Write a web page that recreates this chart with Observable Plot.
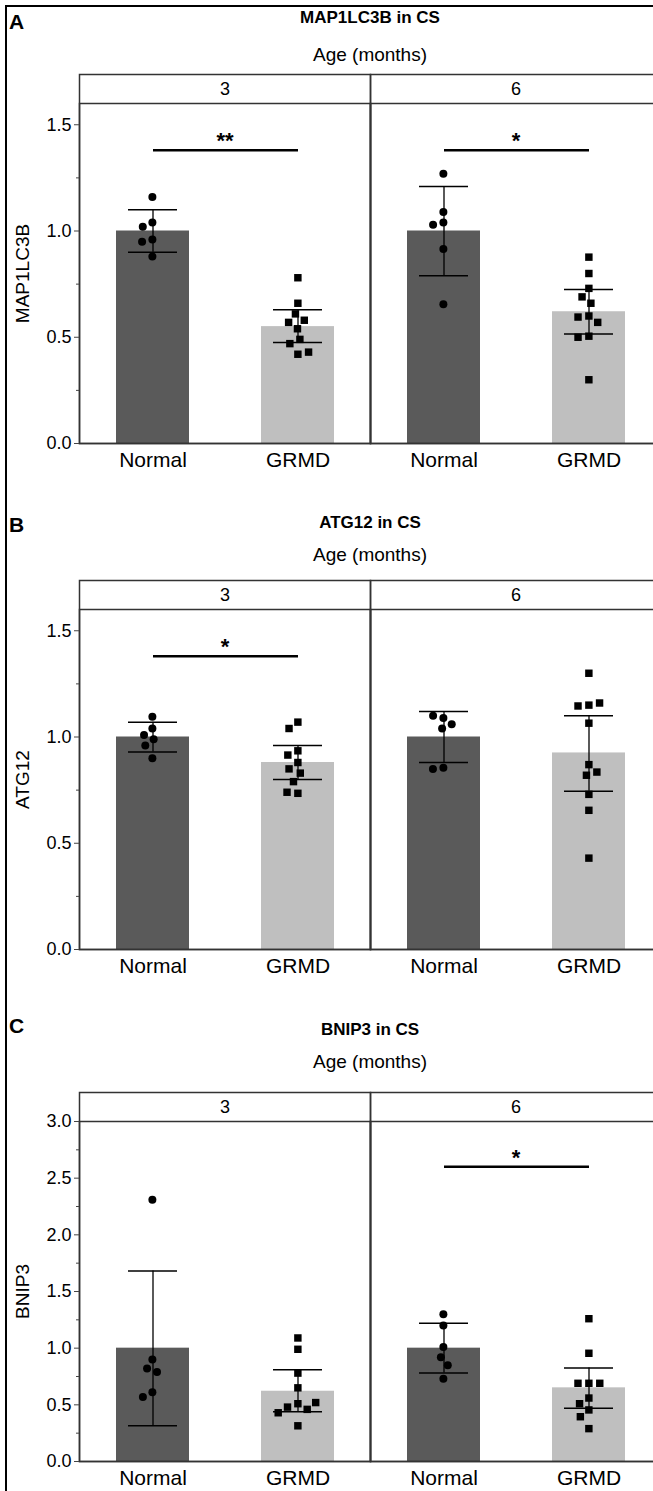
<!DOCTYPE html>
<html>
<head>
<meta charset="utf-8">
<script src="https://cdn.jsdelivr.net/npm/d3@7"></script>
<script src="https://cdn.jsdelivr.net/npm/@observablehq/plot@0.6"></script>
<style>
html, body { margin: 0; padding: 0; background: #fff; overflow: hidden; width: 653px; height: 1491px; }
#root { position: relative; width: 653px; height: 1491px; overflow: hidden; font-family: "Liberation Sans", Arial, Helvetica, sans-serif; color: #000; }
.border { position: absolute; left: 5px; top: 5px; width: 700px; height: 1600px; border-left: 2px solid #000; border-top: 2px solid #000; box-sizing: border-box; }
.letter { position: absolute; left: 9px; font-weight: bold; font-size: 21px; line-height: 24px; height: 24px; }
.title { position: absolute; left: 79px; width: 582px; text-align: center; font-weight: bold; font-size: 17px; line-height: 20px; height: 20px; }
.sub { position: absolute; left: 79px; width: 582px; text-align: center; font-size: 19px; line-height: 22px; height: 22px; }
.plotwrap { position: absolute; left: 0; width: 661px; }
.plotwrap svg { overflow: visible; }
</style>
</head>
<body>
<div id="root"><div class="border"></div></div>
<script>
// ---------- data ----------
const ages = ["3", "6"];
const groups = ["Normal", "GRMD"];

// Panel A: MAP1LC3B in CS  (order of summaries: 3-Normal, 3-GRMD, 6-Normal, 6-GRMD)
const mapMean = [1.00, 0.55, 1.00, 0.62];
const mapLow  = [0.90, 0.475, 0.79, 0.515];
const mapHigh = [1.10, 0.63, 1.21, 0.725];
const mapN3 = [1.16, 1.04, 1.02, 0.96, 0.95, 0.88];
const mapG3 = [0.78, 0.66, 0.61, 0.58, 0.57, 0.54, 0.49, 0.47, 0.42, 0.43];
const mapN6 = [1.27, 1.09, 1.04, 1.03, 0.915, 0.655];
const mapG6 = [0.877, 0.80, 0.73, 0.69, 0.66, 0.60, 0.595, 0.57, 0.505, 0.50, 0.30];
const mapSigAge = ["3", "6"];
const mapSigY = [1.38, 1.38];
const mapSigLabel = ["**", "*"];

// Panel B: ATG12 in CS
const atgMean = [1.00, 0.88, 1.00, 0.925];
const atgLow  = [0.93, 0.80, 0.88, 0.745];
const atgHigh = [1.07, 0.96, 1.12, 1.10];
const atgN3 = [1.095, 1.04, 1.01, 0.99, 0.96, 0.90];
const atgG3 = [1.07, 1.04, 0.935, 0.915, 0.88, 0.85, 0.83, 0.79, 0.735, 0.74];
const atgN6 = [1.09, 1.10, 1.06, 1.04, 0.855, 0.85];
const atgG6 = [1.30, 1.15, 1.146, 1.16, 1.065, 0.87, 0.82, 0.835, 0.73, 0.655, 0.43];
const atgSigAge = ["3"];
const atgSigY = [1.38];
const atgSigLabel = ["*"];

// Panel C: BNIP3 in CS
const bnMean = [1.00, 0.62, 1.00, 0.65];
const bnLow  = [0.315, 0.44, 0.78, 0.47];
const bnHigh = [1.68, 0.81, 1.22, 0.825];
const bnN3 = [2.31, 0.90, 0.82, 0.79, 0.61, 0.57];
const bnG3 = [1.09, 0.99, 0.78, 0.65, 0.51, 0.48, 0.46, 0.52, 0.43, 0.315];
const bnN6 = [1.30, 1.20, 1.01, 0.92, 0.85, 0.73];
const bnG6 = [1.26, 0.955, 0.69, 0.69, 0.69, 0.56, 0.51, 0.455, 0.395, 0.29];
const bnSigAge = ["6"];
const bnSigY = [2.6];
const bnSigLabel = ["*"];

// tick labels
const ticksSmall = [0, 0.5, 1.0, 1.5];
const minorSmall = [0.25, 0.75, 1.25];
const ticksBig = [0, 0.5, 1.0, 1.5, 2.0, 2.5, 3.0];
const minorBig = [0.25, 0.75, 1.25, 1.75, 2.25, 2.75];

// ---------- layout / style ----------
const FONT = '"Liberation Sans", Arial, Helvetica, sans-serif';
const DARK = "#5a5a5a", LIGHT = "#bfbfbf";
const ML = 79, FW = 291, MT = 33, PH = 340, MB = 45;

function makePanel(cfg) {
  const summary = [];
  ages.forEach((a, i) => groups.forEach((g, j) => {
    const k = i * 2 + j;
    summary.push({age: a, group: g, mean: cfg.mean[k], lo: cfg.low[k], hi: cfg.high[k]});
  }));
  const normalPts = [...cfg.n3.map(v => ({age: "3", value: v})), ...cfg.n6.map(v => ({age: "6", value: v}))];
  const grmdPts = [...cfg.g3.map(v => ({age: "3", value: v})), ...cfg.g6.map(v => ({age: "6", value: v}))];
  const sig = cfg.sigAge.map((a, i) => ({age: a, y: cfg.sigY[i], label: cfg.sigLabel[i]}));
  return Plot.plot({
    width: ML + 2 * FW, height: MT + PH + MB,
    marginLeft: ML, marginRight: 0, marginTop: MT, marginBottom: MB,
    style: {fontFamily: FONT, fontSize: "18px", color: "#000", background: "transparent", overflow: "visible"},
    fx: {domain: ages, padding: 0, axis: null},
    x: {domain: groups, paddingInner: 0.5, paddingOuter: 0.25, axis: null},
    y: {domain: cfg.domain, axis: null},
    color: {domain: groups, range: [DARK, LIGHT]},
    marks: [
      Plot.barY(summary, {fx: "age", x: "group", y: "mean", fill: "group"}),
      Plot.ruleX(summary, {fx: "age", x: "group", y1: "lo", y2: "hi", stroke: "#000", strokeWidth: 1.3}),
      Plot.tickY(summary, {fx: "age", x: "group", y: "lo", stroke: "#000", strokeWidth: 1.5, insetLeft: 12, insetRight: 12}),
      Plot.tickY(summary, {fx: "age", x: "group", y: "hi", stroke: "#000", strokeWidth: 1.5, insetLeft: 12, insetRight: 12}),
      Plot.dot(normalPts, Plot.dodgeX({anchor: "middle", padding: 2.5},
        {fx: "age", y: "value", r: 4, fill: "#000", stroke: "none", dx: -3 * FW / 8})),
      Plot.dot(grmdPts, Plot.dodgeX({anchor: "middle", padding: 2.5},
        {fx: "age", y: "value", r: 4.2, symbol: "square", fill: "#000", stroke: "none", dx: FW / 8})),
      Plot.link(sig, {fx: "age", x1: () => "Normal", x2: () => "GRMD", y1: "y", y2: "y", stroke: "#000", strokeWidth: 2.5}),
      Plot.text(sig, {fx: "age", y: "y", text: "label", lineAnchor: "bottom", dy: -2, fontSize: 22, fontWeight: "bold"}),
      Plot.frame({stroke: "#333", strokeWidth: 1.5}),
      Plot.frame({insetTop: -29, stroke: "#333", strokeWidth: 1.5}),
      Plot.text(ages, {fx: d => d, text: d => d, frameAnchor: "top", dy: -14, lineAnchor: "middle", fontSize: 18}),
      Plot.axisX({tickSize: 0, tickPadding: 9, fontSize: 21, label: null}),
      Plot.axisY({ticks: cfg.ticks, tickFormat: ".1f", tickSize: 5, tickPadding: 3, fontSize: 18, label: null, stroke: "#444"}),
      Plot.axisY({ticks: cfg.minor, tickSize: 3, tickFormat: () => "", label: null, stroke: "#444"}),
      Plot.axisY({ticks: [], label: cfg.label, labelAnchor: "center", labelOffset: 64, labelArrow: "none", fontSize: 19})
    ]
  });
}

const panels = [
  {letter: "A", title: "MAP1LC3B in CS", label: "MAP1LC3B", svgTop: 70, letterY: 10, titleY: 8, subY: 44,
   domain: [0, 1.6], ticks: ticksSmall, minor: minorSmall,
   mean: mapMean, low: mapLow, high: mapHigh, n3: mapN3, g3: mapG3, n6: mapN6, g6: mapG6,
   sigAge: mapSigAge, sigY: mapSigY, sigLabel: mapSigLabel},
  {letter: "B", title: "ATG12 in CS", label: "ATG12", svgTop: 576, letterY: 513, titleY: 513, subY: 544,
   domain: [0, 1.6], ticks: ticksSmall, minor: minorSmall,
   mean: atgMean, low: atgLow, high: atgHigh, n3: atgN3, g3: atgG3, n6: atgN6, g6: atgG6,
   sigAge: atgSigAge, sigY: atgSigY, sigLabel: atgSigLabel},
  {letter: "C", title: "BNIP3 in CS", label: "BNIP3", svgTop: 1088, letterY: 1014, titleY: 1020, subY: 1051,
   domain: [0, 3.0], ticks: ticksBig, minor: minorBig,
   mean: bnMean, low: bnLow, high: bnHigh, n3: bnN3, g3: bnG3, n6: bnN6, g6: bnG6,
   sigAge: bnSigAge, sigY: bnSigY, sigLabel: bnSigLabel}
];

const root = document.getElementById("root");
for (const p of panels) {
  const L = document.createElement("div"); L.className = "letter"; L.style.top = p.letterY + "px"; L.textContent = p.letter; root.appendChild(L);
  const T = document.createElement("div"); T.className = "title"; T.style.top = p.titleY + "px"; T.textContent = p.title; root.appendChild(T);
  const S = document.createElement("div"); S.className = "sub"; S.style.top = p.subY + "px"; S.textContent = "Age (months)"; root.appendChild(S);
  const W = document.createElement("div"); W.className = "plotwrap"; W.style.top = p.svgTop + "px";
  W.appendChild(makePanel(p));
  root.appendChild(W);
}
</script>
</body>
</html>
